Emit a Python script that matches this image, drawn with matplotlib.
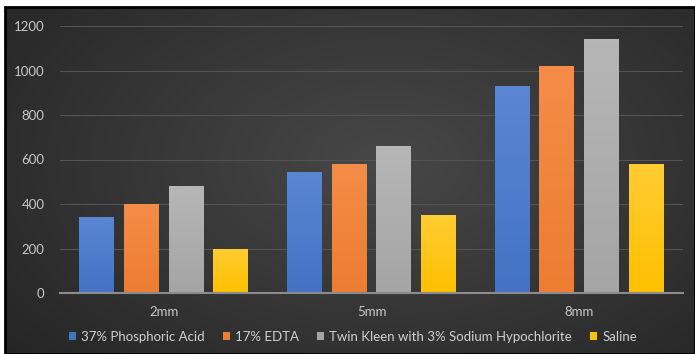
import numpy as np
import matplotlib
matplotlib.use('Agg')
import matplotlib.pyplot as plt
from matplotlib.patches import Rectangle
from matplotlib.colors import to_rgb

plt.rcParams['font.family'] = ['Lato', 'DejaVu Sans']

# dados
categorias = ['2mm', '5mm', '8mm']
series = ['37% Phosphoric Acid', '17% EDTA',
          'Twin Kleen with 3% Sodium Hypochlorite', 'Saline']
fosforico = [340, 545, 930]
edta = [400, 580, 1020]
twin_kleen = [480, 660, 1140]
salina = [200, 350, 580]
valores = [fosforico, edta, twin_kleen, salina]
cores = ['#4472C4', '#ED7D31', '#A5A5A5', '#FFC000']
cores_topo = ['#5a86d2', '#f48c48', '#b6b6b6', '#ffcc33']

fig = plt.figure(figsize=(6.95, 3.54), dpi=100)
fig.patch.set_facecolor('white')

# fundo com gradiente radial
bg = fig.add_axes([5 / 695, 0, 690 / 695, 1 - 7 / 354])
ny, nx = 200, 400
yy, xx = np.mgrid[0:1:ny * 1j, 0:1:nx * 1j]
r = np.sqrt(((xx - 0.55) / 0.75) ** 2 + ((yy - 0.55) / 0.9) ** 2)
r = np.clip(r, 0, 1)
escuro = np.array([0.14, 0.14, 0.14])
claro = np.array([0.28, 0.28, 0.28])
img = claro[None, None, :] * (1 - r[..., None]) + escuro[None, None, :] * r[..., None]
bg.imshow(img, aspect='auto', extent=[0, 1, 0, 1], origin='lower')
bg.set_xlim(0, 1)
bg.set_ylim(0, 1)
bg.axis('off')
fig.add_artist(Rectangle((5 / 695, 0), 690 / 695, 1 - 7 / 354,
                         transform=fig.transFigure, fill=False,
                         edgecolor='black', linewidth=2.0))

ax = fig.add_axes([60 / 695, 1 - 293 / 354, 623 / 695, (293 - 26) / 354])
ax.patch.set_alpha(0)

x = np.arange(len(categorias))
largura = 0.168
passo = 0.215
for i, (vals, cor, topo, nome) in enumerate(zip(valores, cores, cores_topo, series)):
    pos = x + (i - 1.5) * passo
    barras = ax.bar(pos, vals, width=largura, color=cor, label=nome, zorder=3)
    c0 = np.array(to_rgb(cor))
    c1 = np.array(to_rgb(topo))
    t = np.linspace(0, 1, 64)[:, None, None]
    grad = c0[None, None, :] * (1 - t) + c1[None, None, :] * t
    for b in barras:
        bx, by = b.get_x(), b.get_y()
        im = ax.imshow(grad, aspect='auto', origin='lower',
                       extent=[bx, bx + b.get_width(), by, by + b.get_height()],
                       zorder=3.5)
        im.set_clip_path(b)

ax.set_xlim(-0.5, len(categorias) - 0.5)
ax.set_ylim(0, 1200)
ax.set_yticks(range(0, 1201, 200))
ax.set_xticks(x)
ax.set_xticklabels(categorias)
ax.grid(axis='y', color='#545454', linewidth=0.8, zorder=0)
for lado in ['top', 'right', 'left']:
    ax.spines[lado].set_visible(False)
ax.spines['bottom'].set_color('#8c8c8c')
ax.spines['bottom'].set_linewidth(1.5)
ax.spines['bottom'].set_zorder(4)
ax.tick_params(axis='both', length=0, colors='#c8c8c8', labelsize=9.5)
ax.tick_params(axis='y', pad=11)
ax.tick_params(axis='x', pad=9)

leg = ax.legend(loc='upper center', bbox_to_anchor=(0.47, -0.097), ncol=4,
                frameon=False, fontsize=9.5, handlelength=0.55, handleheight=0.55,
                handletextpad=0.35, columnspacing=1.4, labelcolor='#d0d0d0')

fig.savefig('out.png', dpi=100, facecolor='white')
